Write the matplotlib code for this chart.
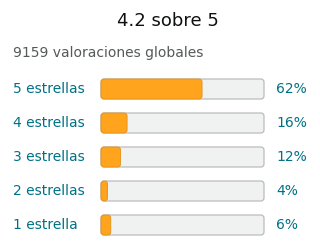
import matplotlib.pyplot as plt
from matplotlib.patches import FancyBboxPatch

# rating breakdown
labels = ["5 estrellas", "4 estrellas", "3 estrellas", "2 estrellas", "1 estrella"]
percents = [62, 16, 12, 4, 6]
title = "4.2 sobre 5"
subtitle = "9159 valoraciones globales"

W, H = 320, 252
fig = plt.figure(figsize=(W / 100, H / 100), dpi=100)
fig.patch.set_facecolor("white")

# bar area in pixels: x 101..264, rows centred at 89 + 34*i
ax = fig.add_axes([101 / W, 10 / H, 163 / W, 170 / H])
ax.set_xlim(0, 100)
ax.set_ylim(4.5, -0.5)
ax.axis("off")

bar_h = 20 / 34
px_x = 100 / 163  # x units per pixel
px_y = 1 / 34     # y units per pixel
r = 3
aspect = px_y / px_x

for i, (lab, p) in enumerate(zip(labels, percents)):
    bg = FancyBboxPatch((0, i - bar_h / 2), 100, bar_h,
                        boxstyle="round,pad=0,rounding_size=%f" % (r * px_x),
                        mutation_aspect=aspect,
                        facecolor="#F0F2F2", edgecolor="#B4B4B4", linewidth=0.8,
                        clip_on=False)
    ax.add_patch(bg)
    fg = FancyBboxPatch((0, i - bar_h / 2), p, bar_h,
                        boxstyle="round,pad=0,rounding_size=%f" % (r * px_x),
                        mutation_aspect=aspect,
                        facecolor="#FFA41C", edgecolor="#E3901A", linewidth=0.6,
                        clip_on=False)
    ax.add_patch(fg)
    ax.text(-88 * px_x, i, lab, ha="left", va="center", fontsize=10,
            color="#007185", clip_on=False)
    ax.text(100 + 12 * px_x, i, "%d%%" % p, ha="left", va="center", fontsize=10,
            color="#007185", clip_on=False)

fig.text(168 / W, 1 - 21 / H, title, ha="center", va="center", fontsize=13,
         color="#0F1111")
fig.text(13 / W, 1 - 53 / H, subtitle, ha="left", va="center", fontsize=10,
         color="#565959")

plt.savefig("out.png", dpi=100)
